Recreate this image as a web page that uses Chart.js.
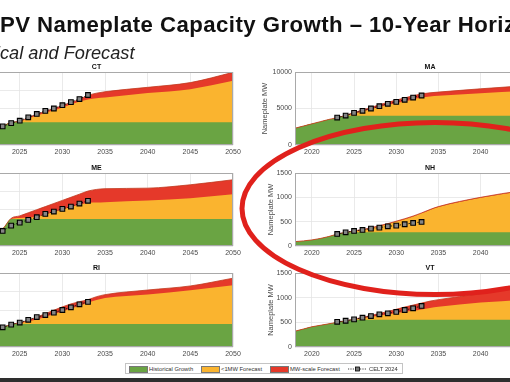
<!DOCTYPE html>
<html><head><meta charset="utf-8">
<script src="https://cdn.jsdelivr.net/npm/chart.js@4.4.1/dist/chart.umd.min.js"></script>
<style>
html,body{margin:0;padding:0;width:510px;height:382px;overflow:hidden;background:#fff;font-family:"Liberation Sans",Arial,sans-serif;}
canvas{position:absolute;}
#hdr{position:absolute;left:0;top:0;z-index:3;}
#ring{position:absolute;left:0;top:0;z-index:10;pointer-events:none;}
#legend{position:absolute;left:125px;top:363px;width:276px;height:9px;border:1px solid #c4c4c4;background:#fff;z-index:5;}
#legend .sw{position:absolute;top:2px;height:5px;border:0.5px solid #777;}
#legend .tx{position:absolute;top:0;line-height:10px;font-size:5.8px;color:#333;white-space:nowrap;}
#bar{position:absolute;left:0;top:378px;width:510px;height:4px;background:#2e2e2e;z-index:6;}
</style></head><body>
<svg id="hdr" width="510" height="64">
  <text x="0" y="32" font-family="Liberation Sans, Arial" font-weight="bold" font-size="22.2" letter-spacing="0.45" fill="#111">PV Nameplate Capacity Growth – 10-Year Horizon</text>
  <text x="0" y="58.5" text-anchor="end" font-family="Liberation Sans, Arial" font-style="italic" font-size="18.2" fill="#222">Histori</text>
  <text x="0" y="58.5" font-family="Liberation Sans, Arial" font-style="italic" font-size="18.2" fill="#222">cal and Forecast</text>
</svg>
<div id="legend">
  <div class="sw" style="left:3px;width:17px;background:#6aa443"></div>
  <div class="tx" style="left:23px">Historical Growth</div>
  <div class="sw" style="left:75px;width:17px;background:#fab42f"></div>
  <div class="tx" style="left:95px">&lt;1MW Forecast</div>
  <div class="sw" style="left:144px;width:17px;background:#e5392a"></div>
  <div class="tx" style="left:164px">MW-scale Forecast</div>
  <svg style="position:absolute;left:222px;top:1px" width="19" height="8"><line x1="0" y1="4" x2="19" y2="4" stroke="#111" stroke-width="0.8" stroke-dasharray="1.2,1.2"/><rect x="7.5" y="2" width="4" height="4" fill="#777" stroke="#000" stroke-width="0.8"/></svg>
  <div class="tx" style="left:243px">CELT 2024</div>
</div>
<div id="bar"></div>
<svg id="ring" width="510" height="382"><ellipse cx="435" cy="208.5" rx="193" ry="86" fill="none" stroke="#e0211c" stroke-width="5"/></svg>
<script>
// ---- data ----
const years = [2018,2019,2020,2021,2022,2023,2024,2025,2026,2027,2028,2029,2030,2031,2032,2033,2034,2035,2040,2045,2050];
const celtYears = [2023,2024,2025,2026,2027,2028,2029,2030,2031,2032,2033];
const xTicks = [2020,2025,2030,2035,2040,2045,2050];
const states = ['CT','MA','ME','NH','RI','VT'];

const ctHistorical = [400,520,650,780,900,1030,1240,1240,1240,1240,1240,1240,1240,1240,1240,1240,1240,1240,1240,1240,1240];
const ctSmall      = [0,0,0,0,0,0,0,50,210,370,530,670,820,980,1140,1260,1320,1360,1610,1820,2280];
const ctMWScale    = [0,0,0,0,0,0,0,10,50,70,80,80,100,110,120,220,280,320,310,360,460];
const ctCELT       = [1020,1200,1330,1520,1700,1870,2000,2180,2350,2520,2740];

const meHistorical = [150,250,380,520,680,940,1480,1480,1480,1480,1480,1480,1480,1480,1480,1480,1480,1480,1480,1480,1480];
const meSmall      = [0,0,0,0,0,0,0,50,80,120,240,380,520,660,790,880,900,920,1010,1140,1360];
const meMWScale    = [0,0,0,0,0,0,40,120,260,390,440,470,500,530,570,650,720,740,680,735,790];
const meCELT       = [825,1117,1282,1430,1578,1760,1887,2035,2162,2327,2475];

const riHistorical = [500,600,700,820,950,1060,1220,1250,1250,1250,1250,1250,1250,1250,1250,1250,1250,1250,1250,1250,1250];
const riSmall      = [0,0,0,0,0,0,0,40,130,230,380,530,670,830,980,1140,1290,1400,1590,1820,2090];
const riMWScale    = [0,0,0,0,0,0,0,20,60,140,170,210,250,250,220,170,180,180,240,230,380];
const riCELT       = [1067,1210,1320,1470,1617,1727,1853,2000,2145,2310,2440];

const maHistorical = [2300,2600,2900,3200,3500,3750,4000,4000,4000,4000,4000,4000,4000,4000,4000,4000,4000,4000,4000,4000,4000];
const maSmall      = [0,0,0,0,0,0,0,300,600,900,1200,1500,1750,2000,2250,2500,2650,2750,3100,3400,3800];
const maMWScale    = [0,0,0,0,0,0,50,150,200,250,300,350,400,450,500,500,500,500,600,700,800];
const maCELT       = [3760,4030,4400,4680,5000,5320,5640,5910,6190,6500,6780];

const nhHistorical = [90,105,125,155,195,245,275,280,280,280,280,280,280,280,280,280,280,280,280,280,280];
const nhSmall      = [0,0,0,0,0,0,5,30,52,87,127,172,222,272,327,392,462,522,712,852,962];
const nhMWScale    = [0,0,0,0,0,0,0,0,8,8,8,8,8,8,8,8,8,8,8,8,8];
const nhCELT       = [247,282,309,330,357,378,405,419,447,474,495];

const vtHistorical = [320,365,410,440,470,500,530,550,550,550,550,550,550,550,550,550,550,550,550,550,550];
const vtSmall      = [0,0,0,0,0,0,0,10,35,60,85,110,135,160,185,210,240,265,350,410,470];
const vtMWScale    = [0,0,0,0,0,0,0,5,15,30,45,60,80,100,115,130,140,145,180,240,280];
const vtCELT       = [511,532,560,594,628,662,683,710,750,785,832];

const leftYTicks = [0,1000,2000,3000,4000];
const maYTicks = [0,5000,10000];
const smallYTicks = [0,500,1000,1500];

// ---- layout ----
const FONT = '"Liberation Sans", Arial, sans-serif';
const WY = 45, TOPSP = 12, HX = 14, PADR = 20;
const cols = [[-40,233],[295,565]];
const rows = [[72,145],[173,246],[273,347]];

const panels = [
  {label:'CT', col:0,row:0, h:ctHistorical, s:ctSmall, m:ctMWScale, c:ctCELT, yt:leftYTicks, tp:10.5},
  {label:'MA', col:1,row:0, h:maHistorical, s:maSmall, m:maMWScale, c:maCELT, yt:maYTicks, tp:10.5},
  {label:'ME', col:0,row:1, h:meHistorical, s:meSmall, m:meMWScale, c:meCELT, yt:leftYTicks, tp:10.5},
  {label:'NH', col:1,row:1, h:nhHistorical, s:nhSmall, m:nhMWScale, c:nhCELT, yt:smallYTicks, tp:16.5},
  {label:'RI', col:0,row:2, h:riHistorical, s:riSmall, m:riMWScale, c:riCELT, yt:leftYTicks, tp:10.5},
  {label:'VT', col:1,row:2, h:vtHistorical, s:vtSmall, m:vtMWScale, c:vtCELT, yt:smallYTicks, tp:16.5}
];

const panelDeco = {
  id:'panelDeco',
  afterDatasetsDraw(chart, args, opts){
    const {ctx, chartArea:a} = chart;
    ctx.save();
    ctx.strokeStyle = '#a9a9a9'; ctx.lineWidth = 1;
    ctx.strokeRect(a.left+0.5, a.top+0.5, a.right-a.left-1, a.bottom-a.top-1);
    ctx.fillStyle = '#111';
    ctx.font = 'bold 7px ' + FONT;
    ctx.textAlign = 'center'; ctx.textBaseline = 'alphabetic';
    ctx.fillText(opts.label, (a.left+a.right)/2, a.top-3);
    ctx.restore();
  }
};

const pts = arr => years.map((y,i)=>({x:y, y:arr[i]}));

panels.forEach(p=>{
  const [pl,pr] = cols[p.col];
  const [pt,pb] = rows[p.row];
  const cv = document.createElement('canvas');
  const W = WY + (pr-pl) + PADR, H = TOPSP + (pb-pt) + HX;
  cv.width = W; cv.height = H;
  cv.style.left = (pl-WY)+'px'; cv.style.top = (pt-TOPSP)+'px';
  cv.style.width = W+'px'; cv.style.height = H+'px';
  document.body.appendChild(cv);
  const ymax = p.yt[p.yt.length-1];
  new Chart(cv.getContext('2d'), {
    type:'line',
    data:{datasets:[
      {label:'CELT 2024', stack:'celt', order:0, data:celtYears.map((y,i)=>({x:y,y:p.c[i]})),
       borderColor:'#111', borderWidth:0.9, borderDash:[1.5,1.5], fill:false,
       pointStyle:'rect', pointRadius:3.3, pointBackgroundColor:'#858585', pointBorderColor:'#000', pointBorderWidth:1.1},
      {label:'Historical Growth', stack:'a', order:1, data:pts(p.h), fill:'origin',
       backgroundColor:'#6aa443', borderColor:'#6aa443', borderWidth:0, pointRadius:0, cubicInterpolationMode:'monotone'},
      {label:'<1MW Forecast', stack:'a', order:1, data:pts(p.s), fill:'origin',
       backgroundColor:'#fab42f', borderColor:'#fab42f', borderWidth:0, pointRadius:0, cubicInterpolationMode:'monotone'},
      {label:'MW-scale Forecast', stack:'a', order:1, data:pts(p.m), fill:'origin',
       backgroundColor:'#e5392a', borderColor:'#c0381e', borderWidth:0.8, pointRadius:0, cubicInterpolationMode:'monotone'}
    ]},
    options:{
      responsive:false, animation:false, devicePixelRatio:1, events:[],
      layout:{padding:{top:TOPSP,left:0,right:PADR,bottom:0}},
      plugins:{legend:{display:false}, tooltip:{enabled:false}, title:{display:false},
        filler:{propagate:false, drawTime:'beforeDatasetsDraw'}, panelDeco:{label:p.label}},
      scales:{
        x:{type:'linear', min:2018, max:2050,
           afterBuildTicks:s=>{s.ticks = xTicks.map(v=>({value:v}));},
           afterFit:s=>{s.height = HX; s.paddingLeft = 0; s.paddingRight = 0;},
           grid:{color:'#e4e4e4', lineWidth:0.8, drawTicks:false}, border:{display:false},
           ticks:{padding:3, autoSkip:false, maxRotation:0, color:'#4a4a4a', font:{size:7, family:FONT}, callback:v=>String(v)}},
        y:{stacked:true, min:0, max:ymax,
           afterBuildTicks:s=>{s.ticks = p.yt.map(v=>({value:v}));},
           afterFit:s=>{s.width = WY; s.paddingTop = 0; s.paddingBottom = 0;},
           grid:{color:'#e4e4e4', lineWidth:0.8, drawTicks:false}, border:{display:false},
           ticks:{padding:3, color:'#4a4a4a', font:{size:7, family:FONT}, callback:v=>String(v)},
           title:{display:true, text:'Nameplate MW', color:'#4a4a4a', font:{size:7.5, family:FONT}, padding:{top:p.tp,bottom:0}}}
      }
    },
    plugins:[panelDeco]
  });
});
</script>
</body></html>
